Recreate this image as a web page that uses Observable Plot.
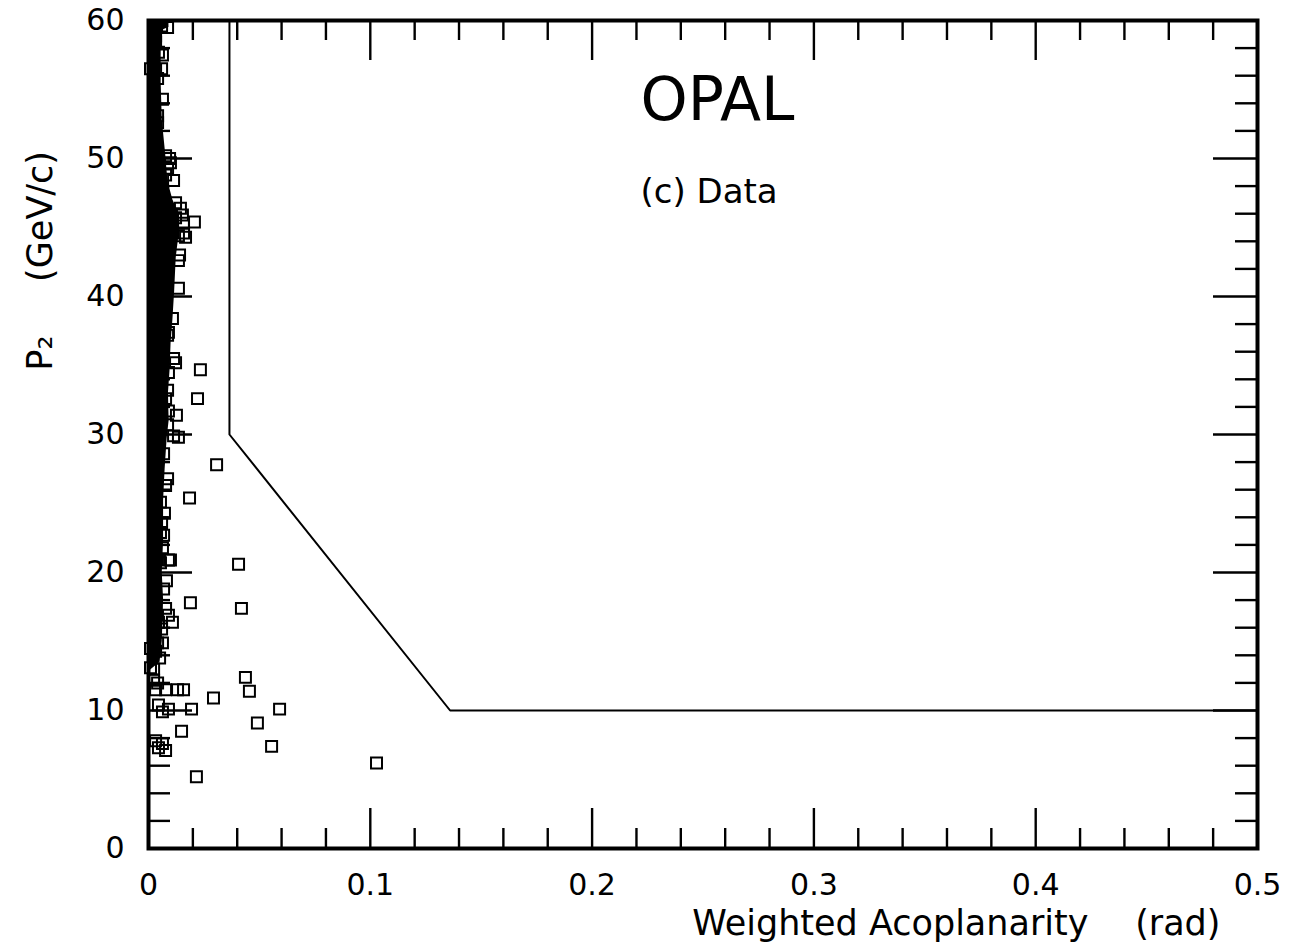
<!DOCTYPE html>
<html>
<head>
<meta charset="utf-8">
<script src="https://cdn.jsdelivr.net/npm/d3@7"></script>
<script src="https://cdn.jsdelivr.net/npm/@observablehq/plot@0.6"></script>
<style>
  html, body { margin: 0; padding: 0; background: #fff; }
  #chart svg { display: block; }
</style>
</head>
<body>
<div id="chart"></div>
<script>
// ---- Data ----
// Individual events (weighted acoplanarity in rad, P2 in GeV/c)
const acoplanarity = [
  0.0023, 0.0059, 0.0086, 0.0032, 0.0032, 0.0023, 0.0045, 0.0063,
  0.0059, 0.0009, 0.0032, 0.0041, 0.0063, 0.0041, 0.0041,
  0.0077, 0.0095, 0.0099, 0.0086, 0.0077, 0.0113,
  0.0122, 0.0144, 0.0153, 0.0122, 0.0207, 0.0158,
  0.0158, 0.0135, 0.0167,
  0.0140, 0.0135, 0.0135, 0.0108, 0.0090, 0.0086,
  0.0113, 0.0122, 0.0234, 0.0090,
  0.0086, 0.0221, 0.0077, 0.0090, 0.0126, 0.0086,
  0.0113, 0.0135,
  0.0307, 0.0086, 0.0077, 0.0054, 0.0185,
  0.0054, 0.0068,
  0.0090, 0.0099, 0.0054, 0.0406,
  0.0189, 0.0419,
  0.0077, 0.0090, 0.0108, 0.0032, 0.0045,
  0.0023, 0.0063, 0.0041, 0.0009, 0.0032,
  0.0009, 0.0023, 0.0023, 0.0041,
  0.0437,
  0.0032, 0.0077, 0.0131, 0.0158,
  0.0455, 0.0293,
  0.0045, 0.0090, 0.0194, 0.0591, 0.0063,
  0.0491, 0.0149,
  0.0032, 0.0063, 0.0555, 0.0045, 0.0077,
  0.1028, 0.0216,
  0.0068, 0.0072, 0.0059, 0.0063, 0.0081, 0.0068, 0.0059, 0.0050
];
const p2 = [
  59.6, 59.6, 59.5, 58.9, 58.4, 58.0, 57.7, 57.5,
  56.5, 56.5, 56.4, 55.8, 54.3, 53.1, 52.6,
  50.2, 50.0, 49.7, 49.3, 48.8, 48.4,
  46.8, 46.4, 45.9, 45.7, 45.4, 45.3,
  44.6, 44.4, 44.3,
  43.0, 42.6, 40.6, 38.4, 37.4, 37.2,
  35.5, 35.2, 34.7, 34.5,
  33.2, 32.6, 32.6, 31.7, 31.4, 30.7,
  29.9, 29.8,
  27.8, 26.8, 26.3, 25.1, 25.4,
  22.9, 22.7,
  20.9, 20.9, 20.7, 20.6,
  17.8, 17.4,
  17.4, 16.9, 16.4, 17.1, 16.4,
  15.2, 14.9, 14.9, 14.5, 14.3,
  13.1, 13.0, 12.2, 12.0,
  12.4,
  11.5, 11.5, 11.5, 11.5,
  11.4, 10.9,
  10.4, 10.1, 10.1, 10.1, 9.9,
  9.1, 8.5,
  7.8, 7.6, 7.4, 7.3, 7.1,
  6.2, 5.2,
  28.6, 24.3, 23.6, 21.8, 19.4, 18.8, 15.9, 13.8
];

// Right edge of the fully saturated band of overlapping markers near zero acoplanarity
const bandP2   = [12.8, 13.5, 15.0, 18.0, 20.0, 22.3, 25.2, 27.5, 29.7, 31.0, 33.0, 34.6, 36.7, 38.3, 40.4, 42.8, 44.8, 45.9, 47.0, 48.3, 50.7, 52.8, 55.5, 58.0, 59.3, 59.5, 60.0];
const bandEdge = [0.0, 0.0052, 0.0062, 0.0068, 0.0062, 0.0068, 0.0068, 0.0075, 0.0084, 0.0093, 0.0090, 0.0097, 0.0102, 0.0110, 0.0118, 0.0125, 0.0140, 0.0140, 0.0110, 0.0088, 0.0075, 0.0062, 0.0057, 0.0057, 0.0062, 0.0092, 0.0092];

// Selection cut boundary
const cutX = [0.0365, 0.0365, 0.136, 0.5];
const cutY = [60, 30, 10, 10];

// Axis ticks
const xTickLabels = [0, 0.1, 0.2, 0.3, 0.4, 0.5];
const yTickLabels = [0, 10, 20, 30, 40, 50, 60];
const xMajorTicks = [0.1, 0.2, 0.3, 0.4];
const xMinorTicks = [0.02, 0.04, 0.06, 0.08, 0.12, 0.14, 0.16, 0.18, 0.22, 0.24, 0.26, 0.28, 0.32, 0.34, 0.36, 0.38, 0.42, 0.44, 0.46, 0.48];
const yMajorTicks = [10, 20, 30, 40, 50];
const yMinorTicks = [2, 4, 6, 8, 12, 14, 16, 18, 22, 24, 26, 28, 32, 34, 36, 38, 42, 44, 46, 48, 52, 54, 56, 58];

// Texts
const titleText = "OPAL";
const subtitleText = "(c) Data";
const xLabelMain = "Weighted Acoplanarity";
const xLabelUnit = "(rad)";
const yLabelMain = "P\u2082";
const yLabelUnit = "(GeV/c)";
const annotations = [
  {x: 0.2218, y: 54.2, text: titleText},
  {x: 0.2218, y: 47.6, text: subtitleText}
];

// ---- Build tables ----
const events = acoplanarity.map((a, i) => ({a, p: p2[i]}));
const band = bandP2.map((p, i) => ({p, e: bandEdge[i]}));
const cut = cutX.map((x, i) => ({x, y: cutY[i]}));

// ---- Layout ----
const W = 1298, H = 951;
const mL = 148, mR = 41, mT = 20, mB = 103;
const plotW = W - mL - mR, plotH = H - mT - mB;
const tickW = 2.4;

const chart = Plot.plot({
  width: W, height: H,
  marginLeft: mL, marginRight: mR, marginTop: mT, marginBottom: mB,
  x: {domain: [0, 0.5]},
  y: {domain: [0, 60]},
  style: {fontFamily: "'DejaVu Sans', sans-serif", background: "#fff", color: "#000"},
  marks: [
    // saturated core of the distribution
    Plot.areaX(band, {y: "p", x: "e", fill: "#000", curve: "linear"}),
    // individual events
    Plot.dot(events, {x: "a", y: "p", symbol: "square", r: 6.2, stroke: "#000", strokeWidth: 2, fill: "none"}),
    // cut line
    Plot.line(cut, {x: "x", y: "y", stroke: "#000", strokeWidth: 2}),
    // inward ticks: bottom & top
    Plot.tickX(xMinorTicks, {x: d => d, insetTop: plotH - 20, strokeWidth: tickW}),
    Plot.tickX(xMajorTicks, {x: d => d, insetTop: plotH - 40, strokeWidth: tickW}),
    Plot.tickX(xMinorTicks, {x: d => d, insetBottom: plotH - 20, strokeWidth: tickW}),
    Plot.tickX(xMajorTicks, {x: d => d, insetBottom: plotH - 40, strokeWidth: tickW}),
    // inward ticks: left & right
    Plot.tickY(yMinorTicks, {y: d => d, insetRight: plotW - 22, strokeWidth: tickW}),
    Plot.tickY(yMajorTicks, {y: d => d, insetRight: plotW - 44, strokeWidth: tickW}),
    Plot.tickY(yMinorTicks, {y: d => d, insetLeft: plotW - 22, strokeWidth: tickW}),
    Plot.tickY(yMajorTicks, {y: d => d, insetLeft: plotW - 44, strokeWidth: tickW}),
    Plot.frame({stroke: "#000", strokeWidth: 4}),
    // tick labels
    Plot.axisX({ticks: xTickLabels, tickSize: 0, tickPadding: 25, fontSize: 30, label: null, tickFormat: d => String(d)}),
    Plot.axisY({ticks: yTickLabels, tickSize: 0, tickPadding: 24, fontSize: 30, label: null}),
    // title and subtitle inside the frame
    Plot.text([annotations[0]], {x: "x", y: "y", text: "text", textAnchor: "start", fontSize: 60}),
    Plot.text([annotations[1]], {x: "x", y: "y", text: "text", textAnchor: "start", fontSize: 34}),
    // axis titles
    Plot.text([xLabelMain], {text: d => d, frameAnchor: "bottom-right", textAnchor: "end", dx: -169, dy: 86, fontSize: 35}),
    Plot.text([xLabelUnit], {text: d => d, frameAnchor: "bottom-right", textAnchor: "end", dx: -37, dy: 86, fontSize: 35}),
    Plot.text([{y: 35.9, t: yLabelMain}], {y: "y", text: "t", frameAnchor: "left", textAnchor: "middle", dx: -108, rotate: -90, fontSize: 35}),
    Plot.text([{y: 45.8, t: yLabelUnit}], {y: "y", text: "t", frameAnchor: "left", textAnchor: "middle", dx: -108, rotate: -90, fontSize: 35})
  ]
});
document.getElementById("chart").appendChild(chart);
</script>
</body>
</html>
